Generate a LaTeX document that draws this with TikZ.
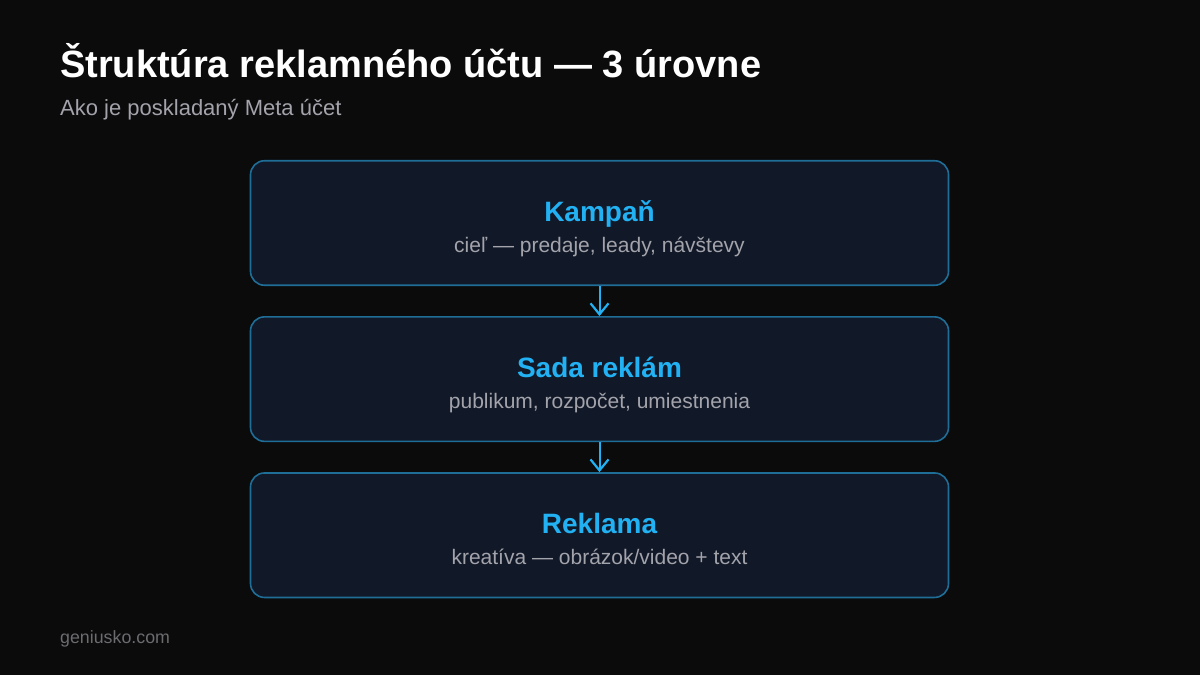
\documentclass[tikz,border=0pt]{standalone}
\usepackage{fontspec}
\setmainfont{Liberation Sans}
\usepackage{xcolor}
\usetikzlibrary{positioning,arrows.meta}
\definecolor{bgdark}{HTML}{0B0B0C}
\definecolor{boxfill}{HTML}{111827}
\definecolor{boxline}{HTML}{1F6E98}
\definecolor{accent}{HTML}{22B2F4}
\definecolor{notegray}{HTML}{A3A3AB}
\definecolor{footgray}{HTML}{6B6B70}
\tikzstyle{level} = [rectangle, draw=boxline, fill=boxfill, line width=1.6pt, rounded corners=14pt, minimum width=698pt, minimum height=124.5pt]
\tikzstyle{levelname} = [text=accent, font=\fontsize{28}{32}\selectfont\bfseries, anchor=base, inner sep=0pt]
\tikzstyle{levelnote} = [text=notegray, font=\fontsize{21}{25}\selectfont, anchor=base, inner sep=0pt]
\tikzstyle{line} = [draw=accent, line width=2pt, -{Straight Barb[length=11pt,width=18pt,line width=2.2pt]}]

\begin{document}
\begin{tikzpicture}[x=1pt, y=-1pt]
    \useasboundingbox [fill=bgdark] (0,0) rectangle (1200,675);
    % header
    \node [anchor=base west, inner sep=0pt, text=white, font=\fontsize{38}{43}\selectfont\bfseries] (title) at (60,77) {Štruktúra reklamného účtu — 3 úrovne};
    \node [anchor=base west, inner sep=0pt, text=notegray, font=\fontsize{22}{26}\selectfont] (subtitle) at (60,115) {Ako je poskladaný Meta účet};

    % levels
    \node [level] (campaign) at (599.5,223) {};
    \node [level, below=30pt of campaign] (adset) {};
    \node [level, below=30pt of adset] (ad) {};

    \node [levelname] (campaign-name) at ([yshift=2pt]campaign.center) {Kampaň};
    \node [levelnote] (campaign-note) at ([yshift=-29pt]campaign.center) {cieľ — predaje, leady, návštevy};
    \node [levelname] (adset-name) at ([yshift=2pt]adset.center) {Sada reklám};
    \node [levelnote] (adset-note) at ([yshift=-29pt]adset.center) {publikum, rozpočet, umiestnenia};
    \node [levelname] (ad-name) at ([yshift=2pt]ad.center) {Reklama};
    \node [levelnote] (ad-note) at ([yshift=-29pt]ad.center) {kreatíva — obrázok/video + text};

    \path [line] (campaign) -- (adset);
    \path [line] (adset) -- (ad);

    % footer
    \node [anchor=base west, inner sep=0pt, text=footgray, font=\fontsize{17.8}{21}\selectfont] (site) at (60,643) {geniusko.com};
\end{tikzpicture}
\end{document}
